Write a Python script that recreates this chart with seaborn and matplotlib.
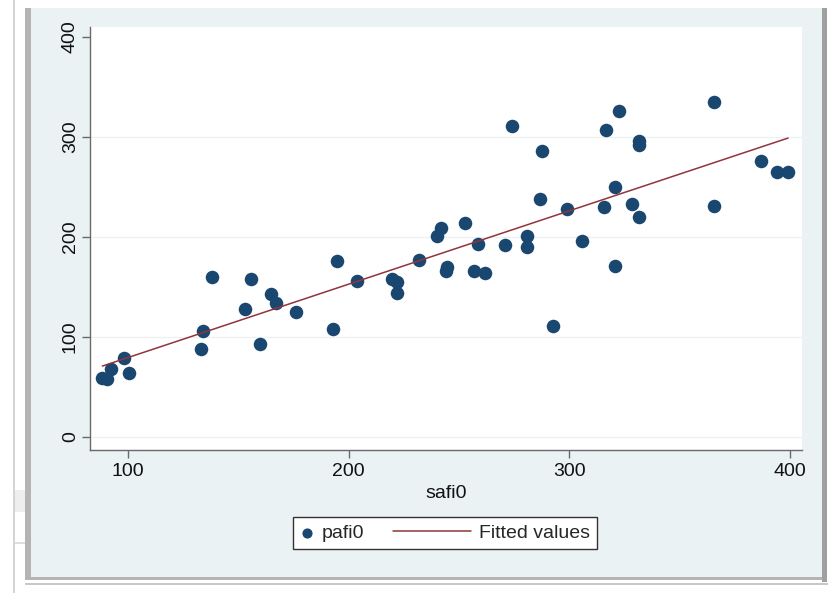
import numpy as np
import pandas as pd
import matplotlib
matplotlib.use("Agg")
import matplotlib.pyplot as plt
from matplotlib.patches import Rectangle
from matplotlib.legend_handler import HandlerLine2D
import seaborn as sns

# values
safi0 = [365.8, 322.7, 274.0, 316.8, 331.8, 331.8, 287.8, 387.0, 394.3, 399.3,
         321.0, 286.8, 298.9, 315.9, 328.4, 331.6, 365.8, 305.9, 280.8, 280.8,
         270.8, 258.9, 253.0, 242.0, 240.0, 232.0, 244.7, 244.0, 257.0, 262.0,
         321.0, 219.9, 221.8, 221.8, 292.7, 138.2, 156.0, 195.0, 204.0, 165.0,
         167.0, 153.0, 176.0, 134.0, 193.0, 133.0, 160.0, 98.3, 100.3, 92.3,
         88.4, 90.6]
pafi0 = [335, 326, 311, 307, 296, 292, 286, 276, 265, 265,
         250, 238, 228, 230, 233, 220, 231, 196, 201, 190,
         192, 193, 214, 209, 201, 177, 170, 166, 166, 164,
         171, 158, 155, 144, 111, 160, 158, 176, 156, 143,
         134, 128, 125, 106, 108, 88, 93, 79, 64, 68,
         59, 58]
xticks = [100, 200, 300, 400]
yticks = [0, 100, 200, 300, 400]

df = pd.DataFrame({"safi0": safi0, "pafi0": pafi0})

navy = "#1a476f"
maroon = "#90353b"
stata_bg = "#eaf2f3"

sns.set_style("white")
plt.rcParams["font.family"] = ["Liberation Sans", "DejaVu Sans"]

W, H = 829, 593
fig = plt.figure(figsize=(W / 100, H / 100), dpi=100, facecolor="white")


def px_rect(x0, y0, x1, y1, color):
    # rectangle given in screen pixels (y from top)
    fig.patches.append(Rectangle((x0 / W, 1 - y1 / H), (x1 - x0) / W, (y1 - y0) / H,
                                 transform=fig.transFigure, facecolor=color,
                                 edgecolor="none", zorder=-10))


# window frame around the Stata graph
px_rect(13, 0, 15, H, "#d4d4d4")
px_rect(15, 490, 25, 512, "#eeeeee")
px_rect(15, 542, 25, 544, "#dddddd")
px_rect(25, 8, 822, 580, "#b4b4b4")
px_rect(31, 8, 822, 577, stata_bg)
px_rect(822, 8, 827, 582, "#a0a0a0")
px_rect(25, 583, 829, 585, "#c8c8c8")

ax = fig.add_axes([90 / W, 1 - 450 / H, (802 - 90) / W, (450 - 27) / H])
ax.set_facecolor("white")

sns.scatterplot(data=df, x="safi0", y="pafi0", ax=ax, color=navy, s=95,
                linewidth=0, label="pafi0", zorder=3)
sns.regplot(data=df, x="safi0", y="pafi0", ax=ax, scatter=False, ci=None,
            color=maroon, line_kws={"lw": 1.1, "zorder": 4}, label="Fitted values")

ax.set_xlim(82.8, 405.6)
ax.set_ylim(-13, 410)
ax.set_xticks(xticks)
ax.set_yticks(yticks)
ax.yaxis.grid(True, color="#edf1f2", lw=1.0)
ax.get_ygridlines()[-1].set_visible(False)
ax.set_axisbelow(True)

for s in ["top", "right"]:
    ax.spines[s].set_visible(False)
for s in ["left", "bottom"]:
    ax.spines[s].set_color("#6a6a6a")
    ax.spines[s].set_linewidth(1.0)

ax.tick_params(axis="both", direction="out", length=6, width=1.0, color="#6a6a6a",
               labelsize=14, labelcolor="#111111", pad=3)
ax.tick_params(axis="x", bottom=True)
ax.tick_params(axis="y", left=True, pad=2)
plt.setp(ax.get_yticklabels(), rotation=90, va="center")
ax.set_xlabel("safi0", fontsize=14, color="#111111", labelpad=4)
ax.set_ylabel("")


class LongLine(HandlerLine2D):
    # Stata draws the legend key line much longer than the marker key
    def get_xdata(self, legend, xdescent, ydescent, width, height, fontsize):
        xd = [-xdescent - 3.3 * fontsize, -xdescent + width]
        return xd, xd


handles, labels = ax.get_legend_handles_labels()
leg = ax.legend(handles, labels, ncol=2, loc="center",
                bbox_to_anchor=(445 / W, 1 - 533 / H), bbox_transform=fig.transFigure,
                fontsize=14, frameon=True, fancybox=False, framealpha=1,
                edgecolor="#333333", handlelength=0.7, handletextpad=0.45,
                columnspacing=4.75, borderpad=0.35, markerscale=0.75,
                handler_map={handles[1]: LongLine()})
leg.get_frame().set_linewidth(1.0)

fig.savefig("out.png", dpi=100, facecolor=fig.get_facecolor())
